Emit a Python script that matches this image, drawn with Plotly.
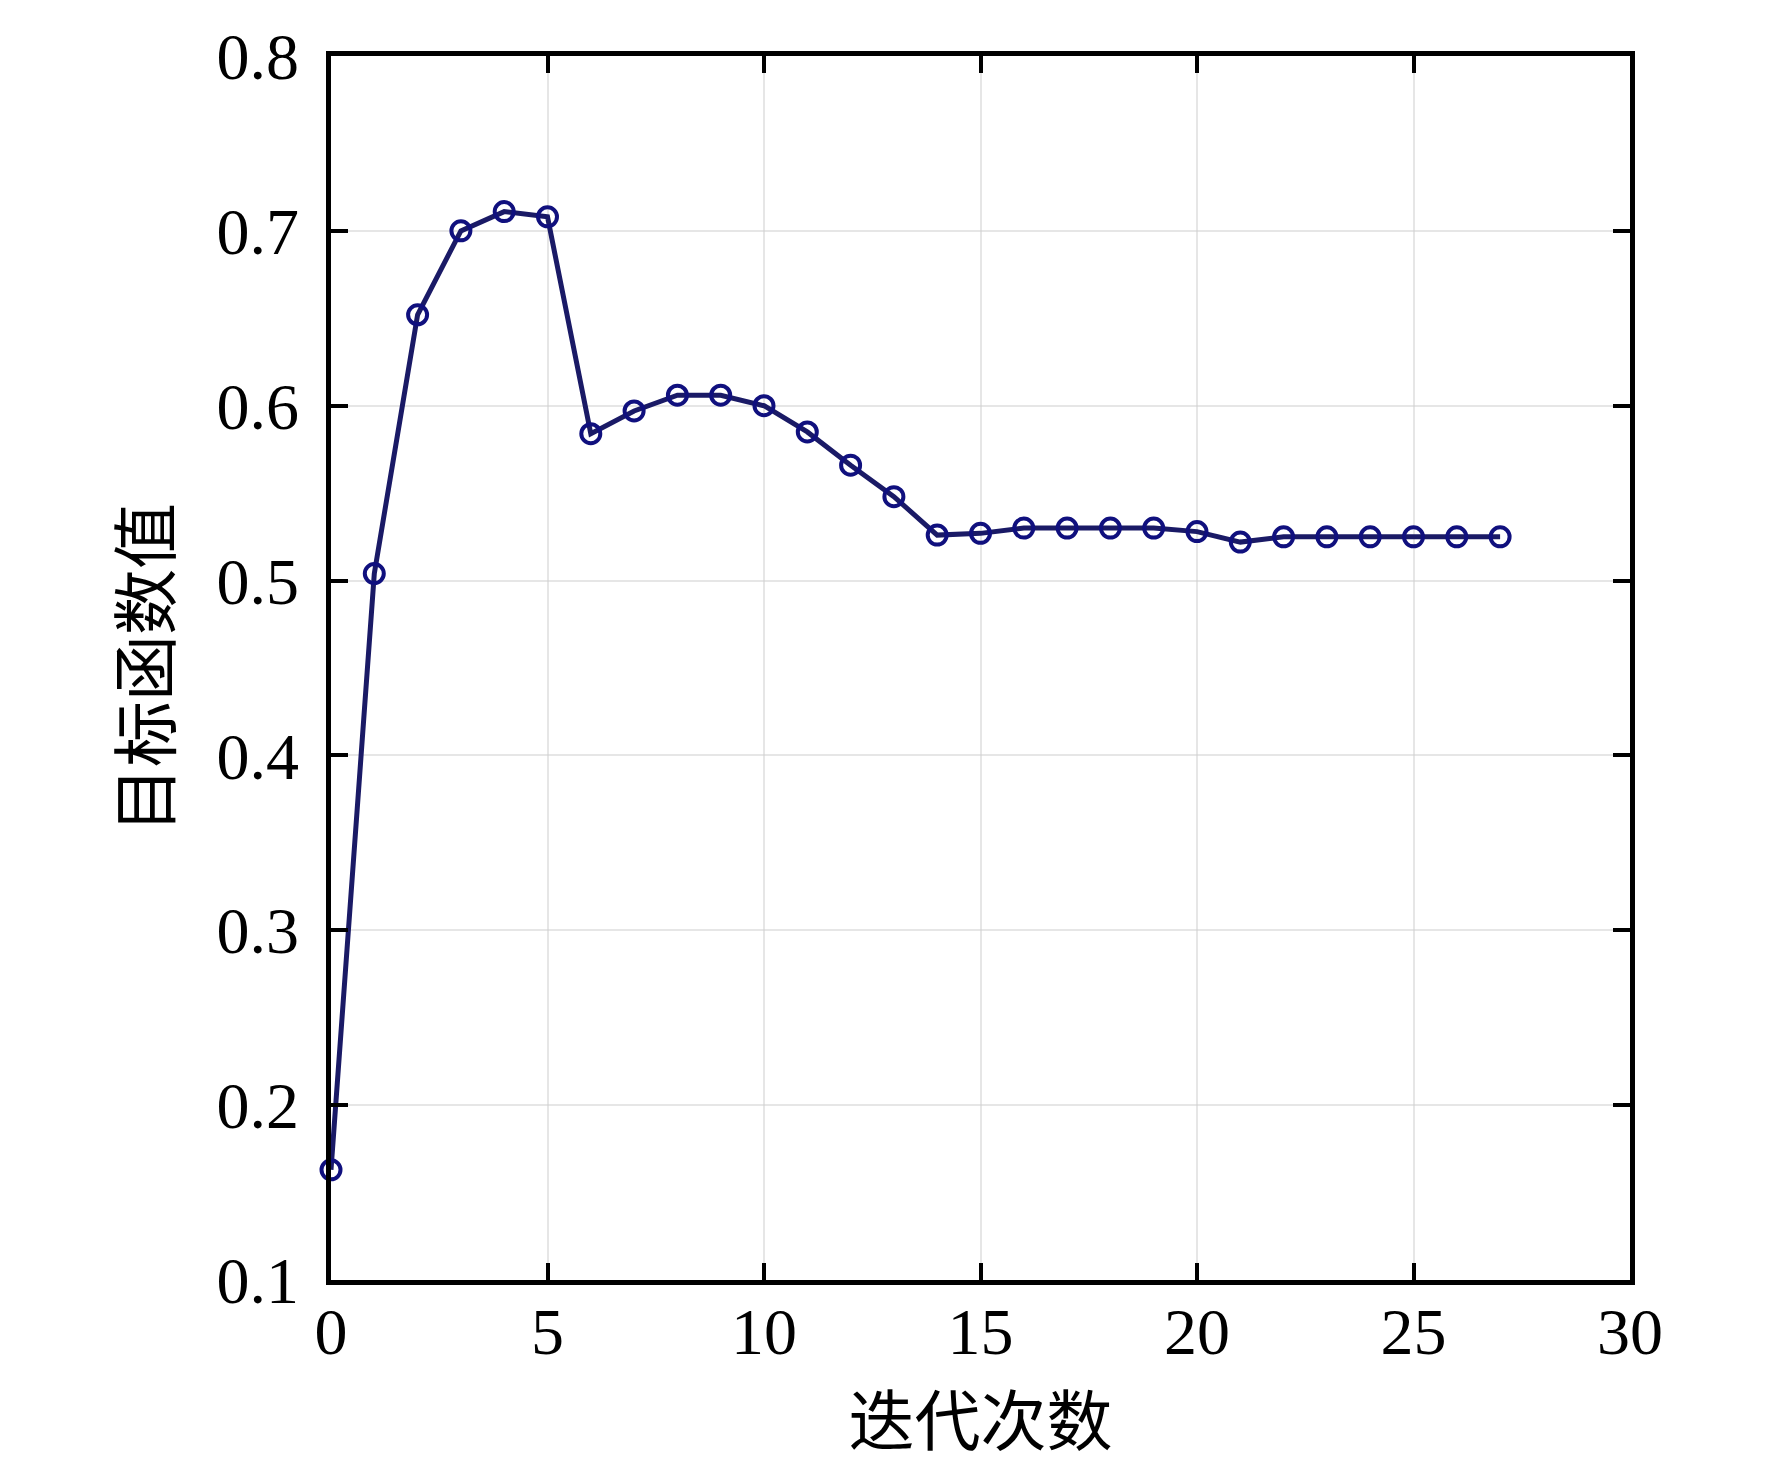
import plotly.graph_objects as go

# --- Data ---
iterations = list(range(28))
objective = [
    0.163, 0.504, 0.652, 0.700, 0.711, 0.708, 0.584, 0.597, 0.606, 0.606,
    0.600, 0.585, 0.566, 0.548, 0.526, 0.527, 0.530, 0.530, 0.530, 0.530,
    0.528, 0.522, 0.525, 0.525, 0.525, 0.525, 0.525, 0.525,
]
x_ticks = [0, 5, 10, 15, 20, 25, 30]
y_ticks = [0.1, 0.2, 0.3, 0.4, 0.5, 0.6, 0.7, 0.8]

line_color = "#1a1a66"
grid_color = "rgba(205,205,205,0.5)"
tick_font = dict(family="Liberation Serif", size=66, color="black")
cjk_font = dict(family="Noto Sans CJK SC", size=66, color="black")

fig = go.Figure()
fig.add_trace(
    go.Scatter(
        x=iterations,
        y=objective,
        mode="lines+markers",
        line=dict(color=line_color, width=5),
        marker=dict(
            symbol="circle-open",
            size=19,
            color="#10107e",
            line=dict(width=4, color="#10107e"),
        ),
        cliponaxis=False,
        showlegend=False,
    )
)

axis_common = dict(
    showline=True,
    linecolor="black",
    linewidth=4.5,
    mirror="allticks",
    ticks="inside",
    ticklen=17,
    tickwidth=4,
    tickcolor="black",
    showgrid=True,
    gridcolor=grid_color,
    gridwidth=1.5,
    zeroline=False,
    tickfont=tick_font,
)

fig.update_layout(
    width=1772,
    height=1470,
    paper_bgcolor="white",
    plot_bgcolor="white",
    margin=dict(l=323, r=150, t=42, b=198),
    xaxis=dict(
        **axis_common,
        range=[0, 30],
        tickvals=x_ticks,
        ticktext=[str(v) for v in x_ticks],
        ticklabelstandoff=-10,
        title=dict(text="迭代次数", font=cjk_font, standoff=18),
    ),
    yaxis=dict(
        **axis_common,
        range=[0.1, 0.8],
        tickvals=y_ticks,
        ticktext=[f"{v:.1f}" for v in y_ticks],
        ticklabelstandoff=14,
        title=dict(text="目标函数值", font=cjk_font, standoff=26),
    ),
)

fig.write_html("out.html")
